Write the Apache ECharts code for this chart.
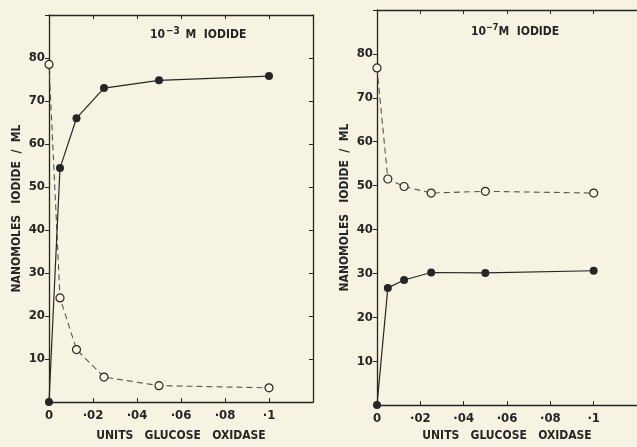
<!DOCTYPE html>
<html>
<head>
<meta charset="utf-8">
<script src="https://cdn.jsdelivr.net/npm/echarts@6/dist/echarts.min.js"></script>
<style>
  html, body { margin: 0; padding: 0; background: #f6f3e2; }
  #main { width: 637px; height: 447px; }
</style>
</head>
<body>
<div id="main"></div>
<script>
// units of glucose oxidase
var units = [0, 0.005, 0.0125, 0.025, 0.05, 0.1];

// 10^-3 M iodide panel
var leftSolid  = [0, 54.4, 66.0, 73.0, 74.8, 75.8];
var leftDashed = [78.5, 24.2, 12.2, 5.8, 3.8, 3.3];

// 10^-7 M iodide panel
var rightDashed = [76.8, 51.5, 49.8, 48.3, 48.7, 48.3];
var rightSolid  = [0, 26.7, 28.5, 30.2, 30.1, 30.6];

var xTickLabels = { '0': '0', '0.02': '·02', '0.04': '·04', '0.06': '·06', '0.08': '·08', '0.1': '·1' };

var ink = '#262626';
var paper = '#f6f3e2';
var font = '"Liberation Sans Narrow", "DejaVu Sans Condensed", "DejaVu Sans", sans-serif';

function pairs(xs, ys) {
  return xs.map(function (x, i) { return [x, ys[i]]; });
}

function xLabel(v) {
  var k = String(Math.round(v * 100) / 100);
  return xTickLabels[k] !== undefined ? xTickLabels[k] : '';
}

function yLabel(v) {
  return (v === 0 || v === 90) ? '' : String(v);
}

var chart = echarts.init(document.getElementById('main'));

function bottomAxis(idx, gap) {
  return {
    type: 'value', gridIndex: idx, min: 0, max: 0.12, interval: 0.02,
    name: 'UNITS   GLUCOSE   OXIDASE', nameLocation: 'middle', nameGap: gap,
    nameTextStyle: { color: ink, fontFamily: font, fontWeight: 'bold', fontSize: 12 },
    axisLine: { show: true, onZero: false, lineStyle: { color: ink, width: 1.3 } },
    axisTick: { show: true, inside: true, length: 4, lineStyle: { color: ink } },
    axisLabel: { color: ink, fontFamily: font, fontWeight: 'bold', fontSize: 13, margin: 7, formatter: xLabel, showMaxLabel: false },
    splitLine: { show: false }
  };
}

function topAxis(idx) {
  return {
    type: 'value', gridIndex: idx, position: 'top', min: 0, max: 0.12, interval: 0.02,
    axisLine: { show: true, onZero: false, lineStyle: { color: ink, width: 1.3 } },
    axisTick: { show: true, inside: true, length: 4, lineStyle: { color: ink } },
    axisLabel: { show: false }, splitLine: { show: false }
  };
}

function leftAxis(idx) {
  return {
    type: 'value', gridIndex: idx, min: 0, max: 90, interval: 10,
    name: 'NANOMOLES   IODIDE  /  ML', nameLocation: 'middle', nameGap: 26,
    nameTextStyle: { color: ink, fontFamily: font, fontWeight: 'bold', fontSize: 12 },
    axisLine: { show: true, onZero: false, lineStyle: { color: ink, width: 1.3 } },
    axisTick: { show: true, length: 4, lineStyle: { color: ink } },
    axisLabel: { color: ink, fontFamily: font, fontWeight: 'bold', fontSize: 13, margin: 4, formatter: yLabel },
    splitLine: { show: false }
  };
}

function solid(xi, yi, data) {
  return {
    type: 'line', xAxisIndex: xi, yAxisIndex: yi, data: data,
    symbol: 'circle', symbolSize: 8,
    itemStyle: { color: ink },
    lineStyle: { color: ink, width: 1.2 },
    z: 3
  };
}

function dashed(xi, yi, data) {
  return {
    type: 'line', xAxisIndex: xi, yAxisIndex: yi, data: data,
    symbol: 'circle', symbolSize: 8,
    itemStyle: { color: paper, borderColor: ink, borderWidth: 1.2 },
    lineStyle: { color: '#555', width: 1.1, type: [6, 4] },
    z: 2
  };
}

var option = {
  backgroundColor: paper,
  animation: false,
  title: [
    {
      text: '{n|10}{s|−3}{n| M  IODIDE}', left: 145, top: 21,
      textStyle: { rich: {
        n: { color: ink, fontFamily: font, fontWeight: 'bold', fontSize: 12 },
        s: { color: ink, fontFamily: font, fontWeight: 'bold', fontSize: 10, verticalAlign: 'top', padding: [0, 2, 8, 1] }
      } }
    },
    {
      text: '{n|10}{s|−7}{n|M  IODIDE}', left: 466, top: 18,
      textStyle: { rich: {
        n: { color: ink, fontFamily: font, fontWeight: 'bold', fontSize: 12 },
        s: { color: ink, fontFamily: font, fontWeight: 'bold', fontSize: 9, verticalAlign: 'top', padding: [0, 0, 8, 0] }
      } }
    }
  ],
  grid: [
    { left: 49, top: 15, width: 264, height: 396, show: false },
    { left: 377, top: 10, width: 265, height: 399, show: false }
  ],
  xAxis: [bottomAxis(0, 28), topAxis(0), bottomAxis(1, 21), topAxis(1)],
  yAxis: [
    leftAxis(0),
    {
      type: 'value', gridIndex: 0, position: 'right', min: 0, max: 90, interval: 10,
      axisLine: { show: true, onZero: false, lineStyle: { color: ink, width: 1.3 } },
      axisTick: { show: true, inside: true, length: 4, lineStyle: { color: ink } },
      axisLabel: { show: false }, splitLine: { show: false }
    },
    leftAxis(1)
  ],
  series: [
    solid(0, 0, pairs(units, leftSolid)),
    dashed(0, 0, pairs(units, leftDashed)),
    dashed(2, 2, pairs(units, rightDashed)),
    solid(2, 2, pairs(units, rightSolid))
  ]
};

chart.setOption(option);
</script>
</body>
</html>
